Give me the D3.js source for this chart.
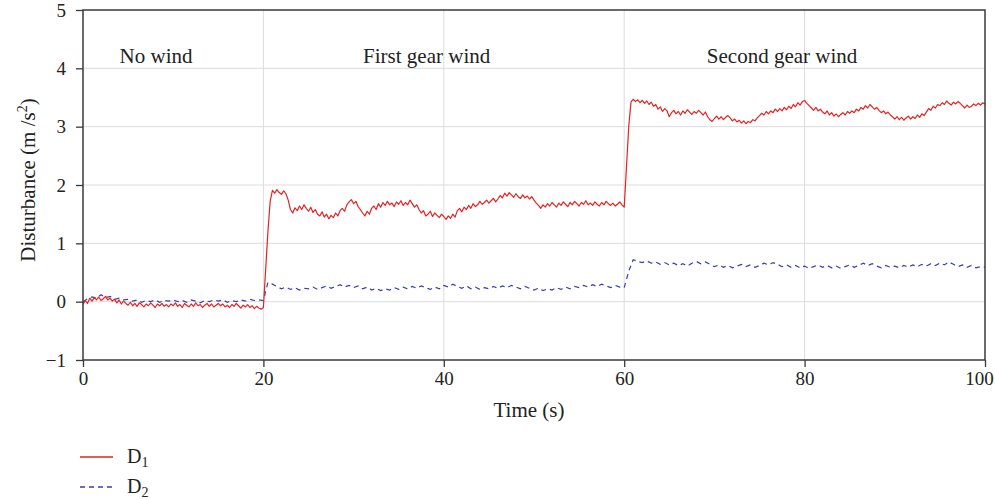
<!DOCTYPE html>
<html>
<head>
<meta charset="utf-8">
<script src="https://cdn.jsdelivr.net/npm/d3@7"></script>
<style>
  html, body { margin: 0; padding: 0; background: #fff; }
  svg { display: block; font-family: "Liberation Serif", "DejaVu Serif", serif; }
</style>
</head>
<body>
<svg id="chart" width="995" height="500"></svg>
<script>
// Disturbance estimate D1, sampled every 0.25 s from 0 to 100 s
const d1Step = 0.25;
const d1Values = [
  -0.05, 0.02, -0.03, 0.06, 0.01, 0.07, 0.03, 0.08, 0.02, 0.05, 0.09, 0.03, 0.06, 0.01, 0.04, -0.02, 0.03, -0.04, 0.01, -0.03,
  -0.06, -0.01, -0.07, -0.03, -0.08, -0.02, -0.05, -0.09, -0.04, -0.07, -0.02, -0.06, -0.1, -0.04, -0.07, -0.03, -0.08, -0.05, -0.09, -0.04,
  -0.07, -0.02, -0.08, -0.05, -0.1, -0.03, -0.06, -0.09, -0.04, -0.08, -0.02, -0.07, -0.05, -0.1, -0.06, -0.03, -0.08, -0.04, -0.09, -0.06,
  -0.03, -0.07, -0.04, -0.09, -0.06, -0.1, -0.05, -0.08, -0.03, -0.07, -0.11, -0.06, -0.09, -0.05, -0.1, -0.07, -0.12, -0.08, -0.11, -0.13,
  -0.1, 0.55, 1.2, 1.72, 1.91, 1.86, 1.92, 1.87, 1.84, 1.9, 1.85, 1.74, 1.58, 1.52, 1.61, 1.56, 1.64, 1.58, 1.66, 1.6,
  1.55, 1.62, 1.53, 1.58, 1.5, 1.47, 1.54, 1.45, 1.5, 1.42, 1.48, 1.44, 1.52, 1.47, 1.56, 1.6, 1.55, 1.66, 1.71, 1.75,
  1.68, 1.72, 1.63, 1.58, 1.52, 1.47, 1.55, 1.5, 1.6, 1.64, 1.58, 1.68, 1.62, 1.7, 1.65, 1.72, 1.66, 1.69, 1.63, 1.71,
  1.67, 1.73, 1.65, 1.7, 1.66, 1.74, 1.68, 1.62, 1.66, 1.58, 1.52, 1.56, 1.47, 1.5, 1.55, 1.46, 1.52, 1.48, 1.44, 1.5,
  1.46, 1.41, 1.47, 1.43, 1.5, 1.45, 1.56, 1.6, 1.54, 1.62, 1.58, 1.65, 1.6, 1.68, 1.63, 1.66, 1.72, 1.67, 1.7, 1.74,
  1.69, 1.73, 1.77, 1.71, 1.76, 1.82, 1.78, 1.86, 1.81, 1.87, 1.83, 1.79, 1.85, 1.8, 1.77, 1.83, 1.78, 1.81, 1.76, 1.8,
  1.74, 1.69, 1.65, 1.6, 1.66, 1.62, 1.68, 1.64, 1.7, 1.66, 1.62, 1.69, 1.65, 1.71, 1.67, 1.63, 1.7, 1.66, 1.72, 1.68,
  1.64, 1.7, 1.67, 1.73, 1.66, 1.69, 1.65, 1.71, 1.67, 1.64, 1.7, 1.66, 1.72, 1.68, 1.65, 1.69, 1.64, 1.67, 1.71, 1.66,
  1.62, 2.3, 3.0, 3.42, 3.47, 3.43, 3.46, 3.41, 3.45, 3.4, 3.44, 3.38, 3.42, 3.35, 3.38, 3.3, 3.34, 3.26, 3.31, 3.27,
  3.17, 3.24, 3.28, 3.22, 3.26, 3.2, 3.27, 3.23, 3.29, 3.25, 3.21, 3.26, 3.23, 3.28, 3.24, 3.2, 3.25, 3.17, 3.12, 3.09,
  3.14, 3.18, 3.13, 3.17, 3.12, 3.16, 3.19, 3.15, 3.1, 3.13, 3.08, 3.11, 3.06, 3.1, 3.05, 3.09, 3.07, 3.12, 3.1, 3.15,
  3.19, 3.23, 3.2, 3.26, 3.22, 3.27, 3.24, 3.3, 3.26, 3.31, 3.27, 3.33, 3.29, 3.35, 3.31, 3.38, 3.34, 3.41, 3.37, 3.43,
  3.45, 3.4, 3.36, 3.32, 3.28, 3.33, 3.27, 3.3, 3.25, 3.22, 3.27, 3.2, 3.24, 3.18, 3.22, 3.17, 3.21, 3.24, 3.2, 3.26,
  3.23, 3.27, 3.24, 3.3, 3.27, 3.33, 3.3, 3.36, 3.32, 3.38, 3.34, 3.3, 3.33, 3.28, 3.24, 3.27, 3.22, 3.25, 3.2, 3.17,
  3.13, 3.17, 3.12, 3.16, 3.11, 3.15, 3.18, 3.13, 3.17, 3.14, 3.2, 3.16, 3.22, 3.19, 3.25, 3.31, 3.28, 3.35, 3.32, 3.38,
  3.36, 3.41, 3.38, 3.44, 3.4, 3.37, 3.42, 3.39, 3.43, 3.4, 3.36, 3.32, 3.37, 3.33, 3.35, 3.39, 3.36, 3.4, 3.37, 3.41,
  3.39
];

// Disturbance estimate D2, sampled every 0.5 s from 0 to 100 s
const d2Step = 0.5;
const d2Values = [
  0.0, 0.05, 0.08, 0.06, 0.12, 0.07, 0.09, 0.04, 0.06, 0.03,
  0.04, 0.01, 0.03, -0.01, 0.02, 0.0, 0.03, -0.01, 0.02, 0.01,
  0.03, 0.0, 0.02, -0.01, 0.03, 0.01, -0.02, 0.02, 0.0, 0.03,
  0.01, 0.03, -0.01, 0.02, 0.0, 0.03, 0.01, 0.04, 0.02, 0.03,
  0.02, 0.33, 0.3, 0.26, 0.22, 0.25, 0.21, 0.24, 0.2, 0.23,
  0.22, 0.25, 0.21, 0.24, 0.27, 0.23, 0.26, 0.29, 0.25, 0.28,
  0.24, 0.27, 0.22, 0.25, 0.2, 0.23, 0.19, 0.22, 0.2, 0.24,
  0.21, 0.25, 0.22, 0.26, 0.23, 0.27, 0.24, 0.21, 0.25, 0.22,
  0.28, 0.25, 0.3, 0.26, 0.23, 0.27, 0.22, 0.25, 0.21, 0.24,
  0.22, 0.26, 0.23, 0.27, 0.24, 0.28, 0.25, 0.22, 0.26, 0.23,
  0.2, 0.23, 0.19, 0.22, 0.2, 0.24, 0.21, 0.25, 0.22, 0.26,
  0.24, 0.28, 0.25, 0.29, 0.26, 0.3, 0.27, 0.24, 0.28, 0.25,
  0.24, 0.52, 0.72, 0.69, 0.67, 0.7, 0.66, 0.68, 0.64, 0.67,
  0.63, 0.66, 0.62, 0.65, 0.61, 0.66, 0.69, 0.65, 0.68, 0.64,
  0.6, 0.63, 0.59, 0.62, 0.58, 0.61, 0.64, 0.6, 0.63, 0.59,
  0.62, 0.66, 0.63, 0.67, 0.64, 0.6, 0.63, 0.59, 0.62, 0.58,
  0.61, 0.57, 0.6, 0.63, 0.59, 0.62, 0.58, 0.61, 0.57, 0.6,
  0.63, 0.59, 0.62, 0.66, 0.62, 0.65, 0.61, 0.58, 0.62, 0.59,
  0.61, 0.58, 0.62, 0.59, 0.63, 0.6, 0.64, 0.61, 0.65, 0.62,
  0.66, 0.63, 0.68, 0.64, 0.6, 0.63, 0.59, 0.62, 0.58, 0.6,
  0.59
];

const xTicks = [0, 20, 40, 60, 80, 100];
const yTicks = [-1, 0, 1, 2, 3, 4, 5];
const phaseLabels = ["No wind", "First gear wind", "Second gear wind"];
const phaseLabelTimes = [8.1, 38.1, 77.5];

const svg = d3.select("#chart");
const margin = { left: 83, top: 10, right: 10, bottom: 140 };
const W = 995, H = 500;
const iw = W - margin.left - margin.right;
const ih = H - margin.top - margin.bottom;

const x = d3.scaleLinear().domain([0, 100]).range([0, iw]);
const y = d3.scaleLinear().domain([-1, 5]).range([ih, 0]);

const g = svg.append("g").attr("transform", `translate(${margin.left},${margin.top})`);

// grid
g.append("g").selectAll("line.h").data(yTicks.slice(1, -1)).join("line")
  .attr("x1", 0).attr("x2", iw)
  .attr("y1", d => y(d)).attr("y2", d => y(d))
  .attr("stroke", "#dcdcdc").attr("stroke-width", 1);
g.append("g").selectAll("line.v").data(xTicks.slice(1, -1)).join("line")
  .attr("y1", 0).attr("y2", ih)
  .attr("x1", d => x(d)).attr("x2", d => x(d))
  .attr("stroke", "#dcdcdc").attr("stroke-width", 1);

// series
const line = d3.line().x(d => x(d[0])).y(d => y(d[1]));
const d1Points = d1Values.map((v, i) => [i * d1Step, v]);
const d2Points = d2Values.map((v, i) => [i * d2Step, v]);
const d2Dash = "5,4";

g.append("path").datum(d2Points)
  .attr("d", line).attr("fill", "none")
  .attr("stroke", "#3c3cb4").attr("stroke-width", 1.2)
  .attr("stroke-dasharray", d2Dash);

g.append("path").datum(d1Points)
  .attr("d", line).attr("fill", "none")
  .attr("stroke", "#e32222").attr("stroke-width", 1.2)
  .attr("stroke-linejoin", "round");

// frame
g.append("rect").attr("x", 0).attr("y", 0).attr("width", iw).attr("height", ih)
  .attr("fill", "none").attr("stroke", "#3a3a3a").attr("stroke-width", 1.5);

// axes
const tickFont = 19;
const xAxis = g.append("g").attr("transform", `translate(0,${ih})`)
  .call(d3.axisBottom(x).tickValues(xTicks).tickSize(7).tickPadding(5).tickFormat(d3.format("d")));
const yAxis = g.append("g")
  .call(d3.axisLeft(y).tickValues(yTicks).tickSize(7).tickPadding(10)
    .tickFormat(d => d < 0 ? "\u2212" + Math.abs(d) : String(d)));
[xAxis, yAxis].forEach(a => {
  a.select(".domain").remove();
  a.selectAll(".tick line").attr("stroke", "#3a3a3a").attr("stroke-width", 1.3);
  a.selectAll(".tick text").attr("fill", "#222").style("font-size", tickFont + "px")
    .style("font-family", "'Liberation Serif', 'DejaVu Serif', serif");
});
// keep the last x label inside the page
xAxis.selectAll(".tick text").filter(d => d === 100).attr("dx", -6);

// axis titles
svg.append("text")
  .attr("x", 529).attr("y", 417)
  .attr("text-anchor", "middle").attr("fill", "#222").style("font-size", "21px")
  .text("Time (s)");

const yTitle = svg.append("text")
  .attr("transform", `translate(35,180) rotate(-90)`)
  .attr("text-anchor", "middle").attr("fill", "#222").style("font-size", "21px");
yTitle.append("tspan").text("Disturbance (m /s");
yTitle.append("tspan").attr("dy", -8).style("font-size", "14px").text("2");
yTitle.append("tspan").attr("dy", 8).text(")");

// phase annotations
g.selectAll("text.phase").data(phaseLabels).join("text")
  .attr("x", (d, i) => x(phaseLabelTimes[i]))
  .attr("y", 53)
  .attr("text-anchor", "middle").attr("fill", "#222").style("font-size", "21px")
  .text(d => d);

// legend
const legendItems = [
  { sub: "1", color: "#e32222", dash: null, y: 457 },
  { sub: "2", color: "#3c3cb4", dash: d2Dash, y: 487 }
];
legendItems.forEach(it => {
  svg.append("line").attr("x1", 80).attr("x2", 113).attr("y1", it.y).attr("y2", it.y)
    .attr("stroke", it.color).attr("stroke-width", 1.3)
    .attr("stroke-dasharray", it.dash);
  const t = svg.append("text").attr("x", 127).attr("y", it.y + 6)
    .attr("fill", "#222").style("font-size", "20px");
  t.append("tspan").text("D");
  t.append("tspan").attr("dy", 4).style("font-size", "14px").text(it.sub);
});
</script>
</body>
</html>
